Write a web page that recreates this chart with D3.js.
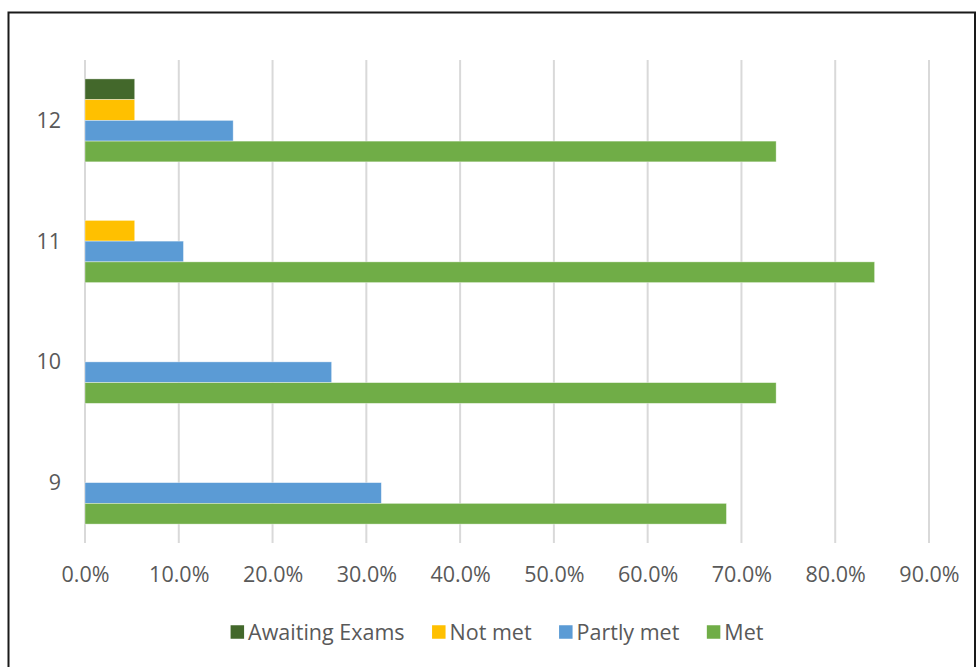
<!DOCTYPE html>
<html>
<head>
<meta charset="utf-8">
<script src="https://cdn.jsdelivr.net/npm/d3@7"></script>
<style>
  html, body { margin: 0; padding: 0; background: #fff; }
  svg { display: block; }
  text { font-family: "Open Sans", "Noto Sans", sans-serif; fill: #595959; }
</style>
</head>
<body>
<svg id="chart" width="977" height="667"></svg>
<script>
// Grade levels (bottom to top on the chart)
const grades = ["9", "10", "11", "12"];
// Series, listed in the order they stack inside each grade group (top to bottom)
const seriesNames = ["Awaiting Exams", "Not met", "Partly met", "Met"];
const seriesColors = ["#43682b", "#ffc000", "#5b9bd5", "#70ad47"];
// Share of students per grade, one array per series (order follows `grades`)
const awaitingExams = [0, 0, 0, 0.053];
const notMet        = [0, 0, 0.053, 0.053];
const partlyMet     = [0.316, 0.263, 0.105, 0.158];
const met           = [0.684, 0.737, 0.842, 0.737];
// Axis ticks
const xTicks = [0, 0.1, 0.2, 0.3, 0.4, 0.5, 0.6, 0.7, 0.8, 0.9];

const seriesValues = [awaitingExams, notMet, partlyMet, met];
const fontSize = "21.5px";

const svg = d3.select("#chart");

// Outer frame
svg.append("rect")
  .attr("x", 8.5).attr("y", 12.5)
  .attr("width", 966.5).attr("height", 700)
  .attr("fill", "none").attr("stroke", "#1a1a1a").attr("stroke-width", 2);

const plot = { left: 85, right: 929, top: 60, bottom: 543 };

const x = d3.scaleLinear().domain([0, 0.9]).range([plot.left, plot.right]);

// Categories run bottom-to-top
const y = d3.scaleBand()
  .domain(grades.slice().reverse())
  .range([plot.top, plot.bottom])
  .paddingInner(0.313)
  .paddingOuter(0.1565);

const ySeries = d3.scaleBand()
  .domain(seriesNames)
  .range([0, y.bandwidth()])
  .padding(0);

// Vertical gridlines
svg.append("g")
  .selectAll("line")
  .data(xTicks)
  .join("line")
  .attr("x1", d => x(d)).attr("x2", d => x(d))
  .attr("y1", plot.top).attr("y2", plot.bottom)
  .attr("stroke", "#d9d9d9").attr("stroke-width", 2);

// Bars
const barRows = [];
grades.forEach((g, gi) => {
  seriesNames.forEach((s, si) => {
    barRows.push({ grade: g, series: s, color: seriesColors[si], value: seriesValues[si][gi] });
  });
});

svg.append("g")
  .selectAll("rect")
  .data(barRows.filter(d => d.value > 0))
  .join("rect")
  .attr("x", x(0))
  .attr("y", d => y(d.grade) + ySeries(d.series))
  .attr("width", d => x(d.value) - x(0))
  .attr("height", ySeries.bandwidth())
  .attr("fill", d => d.color)
  .attr("stroke", "#ffffff")
  .attr("stroke-opacity", 0.5)
  .attr("stroke-width", 0.75);

// X axis tick labels
const xAxis = d3.axisBottom(x)
  .tickValues(xTicks)
  .tickFormat(d3.format(".1%"))
  .tickSize(0)
  .tickPadding(0);

const xg = svg.append("g")
  .attr("transform", `translate(0,${plot.bottom})`)
  .call(xAxis);
xg.select(".domain").remove();
xg.selectAll("text")
  .attr("y", 0)
  .attr("dy", 0)
  .attr("transform", "translate(0,39)")
  .style("font-family", "'Open Sans', sans-serif")
  .style("font-size", fontSize)
  .attr("fill", "#595959");

// Y axis category labels
const yAxis = d3.axisLeft(y).tickSize(0).tickPadding(0);
const yg = svg.append("g")
  .attr("transform", `translate(61,0)`)
  .call(yAxis);
yg.select(".domain").remove();
yg.selectAll("text")
  .attr("dy", "0.35em")
  .style("font-family", "'Open Sans', sans-serif")
  .style("font-size", fontSize)
  .attr("fill", "#595959");

// Legend
const legend = svg.append("g");
const sw = 13.5, gapText = 4, gapItem = 27.5;
const items = legend.selectAll("g")
  .data(seriesNames)
  .join("g");
items.append("rect")
  .attr("width", sw).attr("height", sw)
  .attr("y", -sw / 2)
  .attr("fill", (d, i) => seriesColors[i]);
items.append("text")
  .attr("x", sw + gapText)
  .attr("dy", "0.36em")
  .style("font-size", fontSize)
  .text(d => d);

let cursor = 0;
items.each(function () {
  const w = sw + gapText + d3.select(this).select("text").node().getComputedTextLength();
  d3.select(this).attr("transform", `translate(${cursor},0)`);
  cursor += w + gapItem;
});
const total = cursor - gapItem;
legend.attr("transform", `translate(${497 - total / 2},632)`);
</script>
</body>
</html>
